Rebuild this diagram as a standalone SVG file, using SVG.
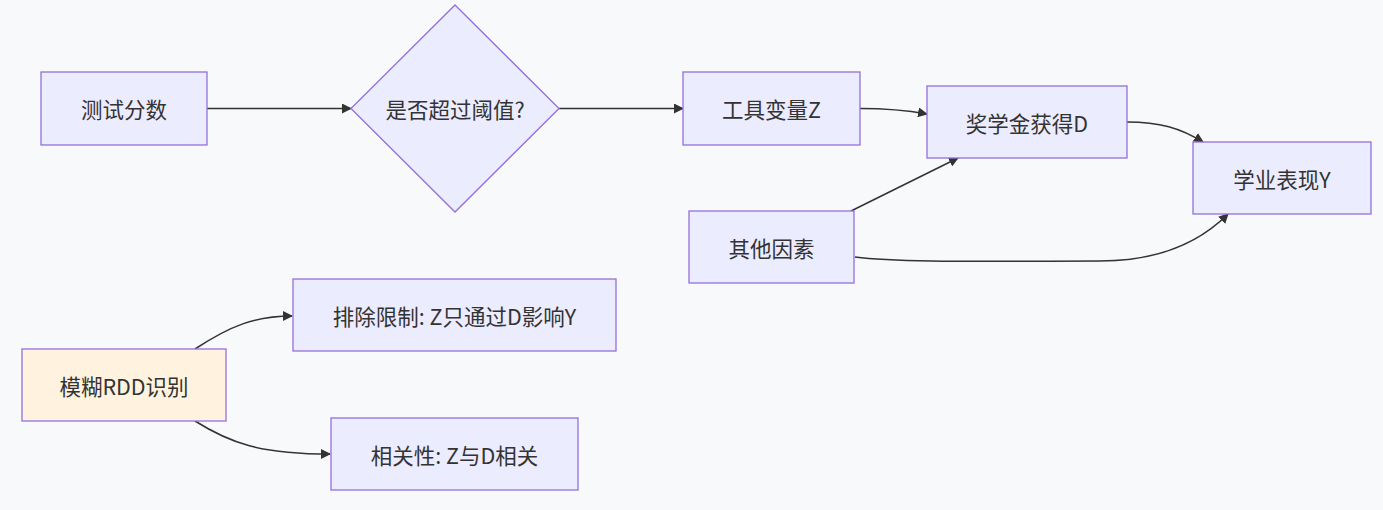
<svg xmlns="http://www.w3.org/2000/svg" width="1383" height="510" viewBox="0 0 1383 510">
<style>
.bg{fill:#f8f9fb}
.n{fill:#ececff;stroke:#9370db;stroke-width:1.3}
.o{fill:#fff3e0;stroke:#9370db;stroke-width:1.3}
.t{font-family:"Noto Sans CJK SC","Noto Sans",sans-serif;font-size:21.5px;fill:#333;text-anchor:middle;dominant-baseline:central}
.e{fill:none;stroke:#333;stroke-width:1.5;marker-end:url(#ah)}
</style>
<defs>
<marker id="ah" viewBox="0 0 10 10" refX="9" refY="5" markerWidth="10" markerHeight="10" markerUnits="userSpaceOnUse" orient="auto">
<path d="M0,0 L10,5 L0,10 z" fill="#333"/>
</marker>
</defs>
<rect class="bg" x="0" y="0" width="1383" height="510"/>
<g id="connectors">
<path class="e" d="M207,108.5 L351,108.5"/>
<path class="e" d="M559,108.5 L683,108.5"/>
<path class="e" d="M860,108.5 C890,108.5 905,110 927,114"/>
<path class="e" d="M1127,122 C1160,122 1180,128 1203,142"/>
<path class="e" d="M851,211 L958,158"/>
<path class="e" d="M855,257 C900,263 1000,261 1100,261 C1160,261 1200,242 1228,214"/>
<path class="e" d="M195,349 C230,326 255,316 292,316"/>
<path class="e" d="M195,421 C230,443 260,454 330,454"/>
</g>
<g id="n1"><rect class="n" x="41" y="72" width="166" height="73"/><text class="t" x="124" y="108.5">测试分数</text></g>
<g id="n2"><polygon class="n" points="455,5 559,108.5 455,212 351,108.5"/><text class="t" x="455" y="108.5">是否超过阈值?</text></g>
<g id="n3"><rect class="n" x="683" y="72" width="177" height="73"/><text class="t" x="771.5" y="108.5">工具变量Z</text></g>
<g id="n4"><rect class="n" x="927" y="86" width="200" height="72"/><text class="t" x="1027" y="122">奖学金获得D</text></g>
<g id="n5"><rect class="n" x="1193" y="142" width="178" height="72"/><text class="t" x="1282" y="178">学业表现Y</text></g>
<g id="n6"><rect class="n" x="689" y="211" width="165" height="72"/><text class="t" x="771.5" y="247">其他因素</text></g>
<g id="n7"><rect class="o" x="22" y="349" width="204" height="72"/><text class="t" x="124" y="385">模糊RDD识别</text></g>
<g id="n8"><rect class="n" x="293" y="279" width="323" height="72"/><text class="t" x="454.5" y="315">排除限制: Z只通过D影响Y</text></g>
<g id="n9"><rect class="n" x="331" y="418" width="247" height="72"/><text class="t" x="454.5" y="454">相关性: Z与D相关</text></g>
</svg>
